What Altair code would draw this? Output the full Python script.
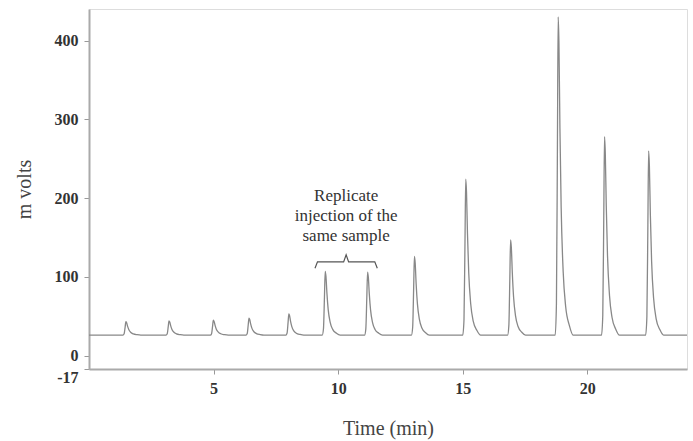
import altair as alt
import pandas as pd

# Peak retention times (min) and apex heights (mV)
peak_times = [1.48, 3.21, 4.99, 6.42, 8.02, 9.48, 11.18, 13.06, 15.12, 16.92, 18.83, 20.69, 22.46]
peak_heights = [43, 44, 45, 47.5, 53, 107, 106, 126, 224, 147, 430, 278, 260]
baseline = 26

# Peak shape: offset from apex (min) and fraction of peak height
shape_offsets = [-0.12, -0.07, -0.03, 0.0, 0.03, 0.07, 0.12, 0.20, 0.30, 0.45, 0.60]
shape_fracs = [0.0, 0.1, 0.6, 1.0, 0.92, 0.65, 0.4, 0.2, 0.09, 0.03, 0.0]

x_ticks = [5, 10, 15, 20]
y_ticks = [-17, 0, 100, 200, 300, 400]

# Brace annotation over the replicate peaks
brace_t = [9.07, 9.17, 10.22, 10.32, 10.42, 11.47, 11.57]
brace_v = [111, 119, 119, 128, 119, 119, 111]
note_lines = ["Replicate", "injection of the", "same sample"]
note_t = [10.32, 10.32, 10.32]
note_v = [203, 177, 152]

rows = [{"t": 0.0, "v": baseline}]
for t, h in zip(peak_times, peak_heights):
    for o, f in zip(shape_offsets, shape_fracs):
        rows.append({"t": t + o, "v": baseline + f * (h - baseline)})
rows.append({"t": 24.0, "v": baseline})
trace = pd.DataFrame(rows)

brace = pd.DataFrame({"t": brace_t, "v": brace_v, "o": list(range(len(brace_t)))})
notes = pd.DataFrame({"t": note_t, "v": note_v, "label": note_lines})

SERIF = "Times New Roman, Liberation Serif, serif"

xscale = alt.Scale(domain=[0, 24], nice=False, zero=False)
yscale = alt.Scale(domain=[-17, 440], nice=False, zero=False)

xaxis = alt.Axis(values=x_ticks, title="Time (min)", grid=False,
                 labelFont=SERIF, labelFontWeight="bold", labelFontSize=16,
                 labelColor="#333", titleFont=SERIF, titleFontWeight="normal",
                 titleFontSize=20, titleColor="#444", titlePadding=22, labelPadding=6,
                 domainColor="#aaa", domainWidth=2, tickColor="#999", tickSize=5,
                 labelFlush=False)
yaxis = alt.Axis(values=y_ticks, title="m volts", grid=False,
                 labelFont=SERIF, labelFontWeight="bold", labelFontSize=16,
                 labelColor="#333", titleFont=SERIF, titleFontWeight="normal",
                 titleFontSize=20, titleColor="#444", titlePadding=20, labelPadding=6,
                 domainColor="#aaa", domainWidth=2, tickColor="#999", tickSize=5,
                 labelFlush=False, labelOverlap=False,
                 labelBaseline={"condition": {"test": "datum.value == -17", "value": "top"},
                                "value": "middle"},
                 labelExpr="'' + datum.value")

line = alt.Chart(trace).mark_line(color="#888", strokeWidth=1.3, interpolate="monotone").encode(
    x=alt.X("t:Q", scale=xscale, axis=xaxis),
    y=alt.Y("v:Q", scale=yscale, axis=yaxis),
    order="t:Q",
)

brace_layer = alt.Chart(brace).mark_line(color="#555", strokeWidth=1.2).encode(
    x=alt.X("t:Q", scale=xscale),
    y=alt.Y("v:Q", scale=yscale),
    order="o:Q",
)

text_layer = alt.Chart(notes).mark_text(font=SERIF, fontSize=17,
                                        color="#333", align="center", baseline="middle").encode(
    x=alt.X("t:Q", scale=xscale),
    y=alt.Y("v:Q", scale=yscale),
    text="label:N",
)

chart = alt.layer(line, brace_layer, text_layer).properties(
    width=598, height=360,
    autosize=alt.AutoSizeParams(type="none"),
    padding={"left": 89, "top": 9, "right": 6, "bottom": 72},
).configure_view(stroke=None).configure(background="white")

chart.save("out.html", embed_options={"renderer": "svg", "actions": False})
